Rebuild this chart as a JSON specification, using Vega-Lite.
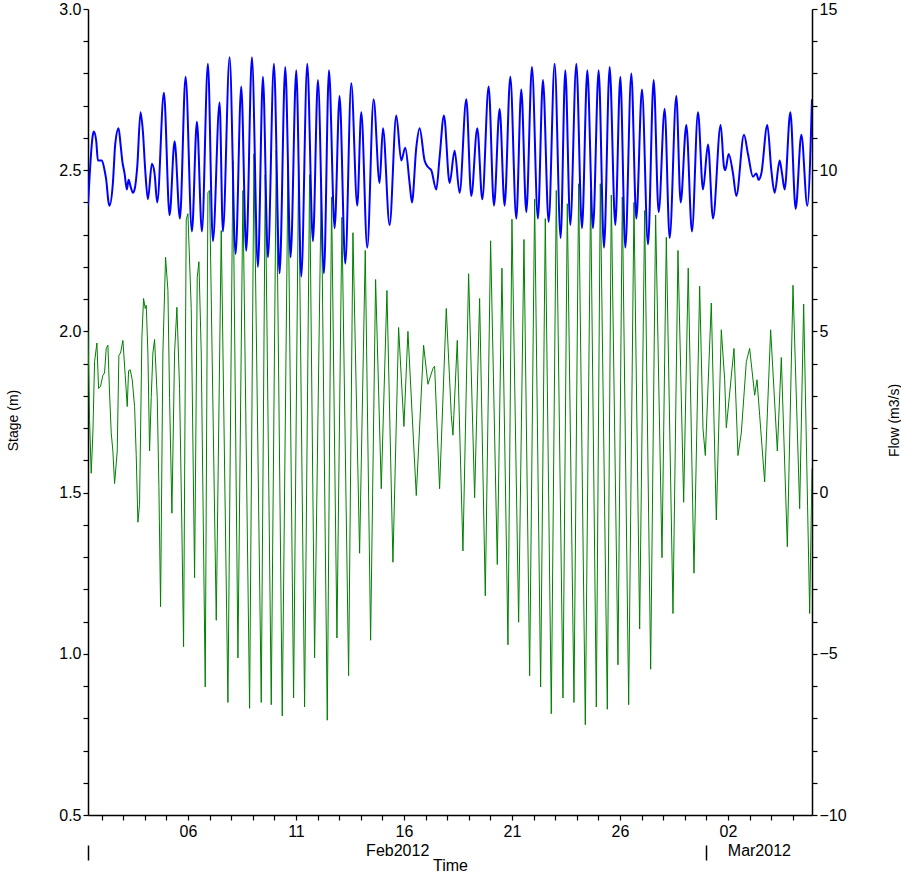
{
  "$schema": "https://vega.github.io/schema/vega-lite/v6.json",
  "width": 724,
  "height": 806,
  "autosize": {"type": "none"},
  "padding": {"left": 88, "top": 9, "right": 89, "bottom": 60},
  "background": "white",
  "config": {
    "view": {"stroke": null},
    "font": "Liberation Sans",
    "axis": {
      "domainColor": "black", "tickColor": "black", "labelColor": "black", "titleColor": "black",
      "labelFont": "Liberation Sans", "titleFont": "Liberation Sans",
      "labelFontSize": 16, "titleFontSize": 16, "titleFontWeight": "normal",
      "grid": false, "tickSize": 5, "domainWidth": 1.5, "tickWidth": 1.2,
      "labelOverlap": false, "labelFlush": false
    }
  },
  "datasets": {
    "stage": [
      {"t":"2012-02-01T09:00","v":2.39},{"t":"2012-02-01T14:25","v":2.61},{"t":"2012-02-01T15:33","v":2.62},{"t":"2012-02-01T18:09","v":2.59},
      {"t":"2012-02-01T20:00","v":2.53},{"t":"2012-02-01T21:50","v":2.53},{"t":"2012-02-02T00:26","v":2.53},{"t":"2012-02-02T03:24","v":2.50},
      {"t":"2012-02-02T05:15","v":2.47},{"t":"2012-02-02T07:51","v":2.40},{"t":"2012-02-02T08:57","v":2.39},{"t":"2012-02-02T12:39","v":2.46},
      {"t":"2012-02-02T15:14","v":2.58},{"t":"2012-02-02T18:58","v":2.63},{"t":"2012-02-02T21:10","v":2.58},{"t":"2012-02-02T23:02","v":2.53},
      {"t":"2012-02-03T01:38","v":2.49},{"t":"2012-02-03T04:12","v":2.44},{"t":"2012-02-03T06:04","v":2.47},{"t":"2012-02-03T08:17","v":2.45},
      {"t":"2012-02-03T10:52","v":2.43},{"t":"2012-02-03T12:45","v":2.44},{"t":"2012-02-03T15:42","v":2.51},{"t":"2012-02-03T19:23","v":2.68},
      {"t":"2012-02-03T21:59","v":2.62},{"t":"2012-02-04T00:35","v":2.50},{"t":"2012-02-04T03:33","v":2.41},{"t":"2012-02-04T08:00","v":2.52},
      {"t":"2012-02-04T10:57","v":2.49},{"t":"2012-02-04T13:55","v":2.40},{"t":"2012-02-04T21:20","v":2.74},{"t":"2012-02-05T03:37","v":2.36},
      {"t":"2012-02-05T09:11","v":2.59},{"t":"2012-02-05T15:06","v":2.35},{"t":"2012-02-05T21:25","v":2.79},{"t":"2012-02-06T04:26","v":2.31},
      {"t":"2012-02-06T10:00","v":2.65},{"t":"2012-02-06T15:33","v":2.31},{"t":"2012-02-06T22:13","v":2.83},{"t":"2012-02-07T03:46","v":2.28},
      {"t":"2012-02-07T11:11","v":2.71},{"t":"2012-02-07T14:53","v":2.31},{"t":"2012-02-07T22:18","v":2.85},{"t":"2012-02-08T04:58","v":2.24},
      {"t":"2012-02-08T11:15","v":2.76},{"t":"2012-02-08T16:49","v":2.25},{"t":"2012-02-08T23:07","v":2.85},{"t":"2012-02-09T05:47","v":2.20},
      {"t":"2012-02-09T11:20","v":2.79},{"t":"2012-02-09T16:54","v":2.23},{"t":"2012-02-09T23:33","v":2.83},{"t":"2012-02-10T05:51","v":2.18},
      {"t":"2012-02-10T12:09","v":2.82},{"t":"2012-02-10T18:04","v":2.23},{"t":"2012-02-11T00:22","v":2.81},{"t":"2012-02-11T05:56","v":2.17},
      {"t":"2012-02-11T12:36","v":2.83},{"t":"2012-02-11T18:53","v":2.28},{"t":"2012-02-12T00:27","v":2.78},{"t":"2012-02-12T07:06","v":2.18},
      {"t":"2012-02-12T12:43","v":2.81},{"t":"2012-02-12T18:58","v":2.32},{"t":"2012-02-13T00:30","v":2.73},{"t":"2012-02-13T06:49","v":2.21},
      {"t":"2012-02-13T13:28","v":2.77},{"t":"2012-02-13T20:08","v":2.39},{"t":"2012-02-14T00:35","v":2.68},{"t":"2012-02-14T07:15","v":2.26},
      {"t":"2012-02-14T14:17","v":2.72},{"t":"2012-02-14T20:57","v":2.46},{"t":"2012-02-15T00:39","v":2.63},{"t":"2012-02-15T08:04","v":2.33},
      {"t":"2012-02-15T15:29","v":2.67},{"t":"2012-02-15T21:01","v":2.53},{"t":"2012-02-16T01:28","v":2.57},{"t":"2012-02-16T06:17","v":2.46},
      {"t":"2012-02-16T08:53","v":2.40},{"t":"2012-02-16T13:42","v":2.57},{"t":"2012-02-16T17:24","v":2.63},{"t":"2012-02-16T22:57","v":2.53},
      {"t":"2012-02-17T02:40","v":2.51},{"t":"2012-02-17T06:22","v":2.50},{"t":"2012-02-17T11:56","v":2.44},{"t":"2012-02-17T15:37","v":2.54},
      {"t":"2012-02-17T20:27","v":2.67},{"t":"2012-02-18T02:44","v":2.46},{"t":"2012-02-18T08:18","v":2.56},{"t":"2012-02-18T13:51","v":2.43},
      {"t":"2012-02-18T21:16","v":2.72},{"t":"2012-02-19T02:48","v":2.42},{"t":"2012-02-19T09:29","v":2.63},{"t":"2012-02-19T15:03","v":2.41},
      {"t":"2012-02-19T22:05","v":2.76},{"t":"2012-02-20T04:00","v":2.39},{"t":"2012-02-20T10:18","v":2.69},{"t":"2012-02-20T15:50","v":2.39},
      {"t":"2012-02-20T22:09","v":2.79},{"t":"2012-02-21T04:49","v":2.35},{"t":"2012-02-21T10:22","v":2.75},{"t":"2012-02-21T15:56","v":2.37},
      {"t":"2012-02-21T22:13","v":2.82},{"t":"2012-02-22T04:49","v":2.35},{"t":"2012-02-22T10:26","v":2.78},{"t":"2012-02-22T16:45","v":2.34},
      {"t":"2012-02-22T23:24","v":2.83},{"t":"2012-02-23T06:04","v":2.29},{"t":"2012-02-23T11:15","v":2.81},{"t":"2012-02-23T16:48","v":2.33},
      {"t":"2012-02-23T23:30","v":2.83},{"t":"2012-02-24T05:47","v":2.32},{"t":"2012-02-24T11:43","v":2.81},{"t":"2012-02-24T18:00","v":2.32},
      {"t":"2012-02-25T00:19","v":2.81},{"t":"2012-02-25T06:14","v":2.26},{"t":"2012-02-25T12:32","v":2.82},{"t":"2012-02-25T18:49","v":2.33},
      {"t":"2012-02-26T00:23","v":2.79},{"t":"2012-02-26T05:56","v":2.26},{"t":"2012-02-26T12:36","v":2.80},{"t":"2012-02-26T18:09","v":2.35},
      {"t":"2012-02-27T00:27","v":2.75},{"t":"2012-02-27T07:08","v":2.27},{"t":"2012-02-27T13:25","v":2.78},{"t":"2012-02-27T18:59","v":2.37},
      {"t":"2012-02-28T01:38","v":2.69},{"t":"2012-02-28T07:12","v":2.29},{"t":"2012-02-28T14:35","v":2.73},{"t":"2012-02-28T19:25","v":2.40},
      {"t":"2012-02-29T01:42","v":2.64},{"t":"2012-02-29T08:00","v":2.31},{"t":"2012-02-29T14:40","v":2.68},{"t":"2012-02-29T20:14","v":2.44},
      {"t":"2012-03-01T01:47","v":2.58},{"t":"2012-03-01T07:21","v":2.35},{"t":"2012-03-01T15:50","v":2.64},{"t":"2012-03-01T19:34","v":2.51},
      {"t":"2012-03-01T21:03","v":2.50},{"t":"2012-03-02T00:45","v":2.55},{"t":"2012-03-02T05:33","v":2.49},{"t":"2012-03-02T09:16","v":2.42},
      {"t":"2012-03-02T17:47","v":2.61},{"t":"2012-03-02T22:13","v":2.55},{"t":"2012-03-03T03:46","v":2.48},{"t":"2012-03-03T07:29","v":2.49},
      {"t":"2012-03-03T10:05","v":2.47},{"t":"2012-03-03T13:02","v":2.49},{"t":"2012-03-03T19:42","v":2.64},{"t":"2012-03-04T00:09","v":2.50},
      {"t":"2012-03-04T03:50","v":2.43},{"t":"2012-03-04T09:25","v":2.53},{"t":"2012-03-04T12:00","v":2.49},{"t":"2012-03-04T14:57","v":2.44},
      {"t":"2012-03-04T21:16","v":2.68},{"t":"2012-03-05T03:11","v":2.38},{"t":"2012-03-05T09:29","v":2.61},{"t":"2012-03-05T16:09","v":2.39},
      {"t":"2012-03-05T21:20","v":2.72}
    ],
    "flow": [
      {"t":"2012-02-01T09:00","v":5.02},{"t":"2012-02-01T10:44","v":2.26},{"t":"2012-02-01T12:35","v":0.60},{"t":"2012-02-01T14:25","v":1.85},
      {"t":"2012-02-01T16:18","v":4.06},{"t":"2012-02-01T18:53","v":4.64},{"t":"2012-02-01T20:44","v":3.23},{"t":"2012-02-01T22:57","v":3.30},
      {"t":"2012-02-02T01:32","v":3.64},{"t":"2012-02-02T03:24","v":3.71},{"t":"2012-02-02T05:15","v":4.47},{"t":"2012-02-02T07:06","v":4.57},
      {"t":"2012-02-02T08:57","v":3.09},{"t":"2012-02-02T10:48","v":1.85},{"t":"2012-02-02T12:39","v":1.29},{"t":"2012-02-02T14:31","v":0.28},
      {"t":"2012-02-02T17:28","v":1.29},{"t":"2012-02-02T19:19","v":4.26},{"t":"2012-02-02T21:10","v":4.33},{"t":"2012-02-02T23:46","v":4.72},
      {"t":"2012-02-03T02:21","v":3.64},{"t":"2012-02-03T04:35","v":2.67},{"t":"2012-02-03T06:04","v":3.78},{"t":"2012-02-03T07:55","v":3.81},
      {"t":"2012-02-03T10:09","v":3.50},{"t":"2012-02-03T12:45","v":2.67},{"t":"2012-02-03T14:35","v":1.15},{"t":"2012-02-03T16:26","v":-0.92},
      {"t":"2012-02-03T18:17","v":-0.36},{"t":"2012-02-03T20:53","v":4.82},{"t":"2012-02-03T22:44","v":6.02},{"t":"2012-02-04T00:35","v":5.71},
      {"t":"2012-02-04T01:42","v":5.81},{"t":"2012-02-04T03:33","v":4.33},{"t":"2012-02-04T05:24","v":1.29},{"t":"2012-02-04T07:15","v":2.95},
      {"t":"2012-02-04T09:06","v":4.33},{"t":"2012-02-04T10:57","v":4.75},{"t":"2012-02-04T13:55","v":2.95},{"t":"2012-02-04T15:46","v":0.19},
      {"t":"2012-02-04T17:37","v":-3.54},{"t":"2012-02-04T20:12","v":4.33},{"t":"2012-02-04T23:11","v":7.30},{"t":"2012-02-05T01:47","v":6.27},
      {"t":"2012-02-05T03:37","v":2.95},{"t":"2012-02-05T06:13","v":-0.64},{"t":"2012-02-05T09:11","v":4.33},{"t":"2012-02-05T11:46","v":5.75},
      {"t":"2012-02-05T14:44","v":3.23},{"t":"2012-02-05T17:20","v":-1.19},{"t":"2012-02-05T19:10","v":-4.78},{"t":"2012-02-05T22:09","v":8.48},
      {"t":"2012-02-06T00:00","v":8.65},{"t":"2012-02-06T03:42","v":5.71},{"t":"2012-02-06T07:25","v":-2.64},{"t":"2012-02-06T10:22","v":6.68},
      {"t":"2012-02-06T12:13","v":7.16},{"t":"2012-02-06T14:48","v":4.33},{"t":"2012-02-06T19:15","v":-6.03},{"t":"2012-02-06T22:13","v":9.30},
      {"t":"2012-02-07T00:04","v":9.37},{"t":"2012-02-07T07:29","v":-3.96},{"t":"2012-02-07T13:02","v":8.13},{"t":"2012-02-07T20:27","v":-6.51},
      {"t":"2012-02-08T02:00","v":10.30},{"t":"2012-02-08T07:34","v":-5.13},{"t":"2012-02-08T13:06","v":9.37},{"t":"2012-02-08T20:31","v":-6.69},
      {"t":"2012-02-09T01:21","v":10.51},{"t":"2012-02-09T09:29","v":-6.51},{"t":"2012-02-09T13:55","v":9.86},{"t":"2012-02-09T20:36","v":-6.58},
      {"t":"2012-02-10T02:10","v":10.62},{"t":"2012-02-10T08:49","v":-6.93},{"t":"2012-02-10T15:07","v":10.02},{"t":"2012-02-10T21:25","v":-6.37},
      {"t":"2012-02-11T02:57","v":10.16},{"t":"2012-02-11T09:37","v":-6.65},{"t":"2012-02-11T15:12","v":9.86},{"t":"2012-02-11T20:44","v":-5.13},
      {"t":"2012-02-12T04:09","v":9.61},{"t":"2012-02-12T10:49","v":-7.06},{"t":"2012-02-12T15:36","v":9.17},{"t":"2012-02-12T21:33","v":-4.51},
      {"t":"2012-02-13T03:06","v":8.54},{"t":"2012-02-13T10:31","v":-5.68},{"t":"2012-02-13T15:20","v":8.06},{"t":"2012-02-13T22:44","v":-1.88},
      {"t":"2012-02-14T05:01","v":7.51},{"t":"2012-02-14T10:57","v":-4.58},{"t":"2012-02-14T16:31","v":6.61},{"t":"2012-02-14T22:48","v":0.12},
      {"t":"2012-02-15T05:07","v":6.27},{"t":"2012-02-15T11:46","v":-2.16},{"t":"2012-02-15T18:04","v":5.12},{"t":"2012-02-15T23:59","v":2.05},
      {"t":"2012-02-16T04:26","v":5.00},{"t":"2012-02-16T13:42","v":-0.09},{"t":"2012-02-16T21:50","v":4.57},{"t":"2012-02-17T02:40","v":3.36},
      {"t":"2012-02-17T08:12","v":3.85},{"t":"2012-02-17T10:05","v":3.92},{"t":"2012-02-17T15:37","v":0.12},{"t":"2012-02-17T23:02","v":5.71},
      {"t":"2012-02-18T04:35","v":2.40},{"t":"2012-02-18T06:26","v":1.78},{"t":"2012-02-18T11:15","v":4.72},{"t":"2012-02-18T17:33","v":-1.81},
      {"t":"2012-02-18T23:51","v":6.79},{"t":"2012-02-19T06:32","v":-0.16},{"t":"2012-02-19T12:04","v":6.02},{"t":"2012-02-19T18:22","v":-3.20},
      {"t":"2012-02-20T00:17","v":7.81},{"t":"2012-02-20T07:42","v":-2.23},{"t":"2012-02-20T12:53","v":6.96},{"t":"2012-02-20T19:34","v":-4.72},
      {"t":"2012-02-21T00:00","v":8.48},{"t":"2012-02-21T07:25","v":-4.02},{"t":"2012-02-21T13:21","v":7.85},{"t":"2012-02-21T19:38","v":-5.68},
      {"t":"2012-02-22T01:11","v":9.10},{"t":"2012-02-22T07:51","v":-6.03},{"t":"2012-02-22T13:02","v":8.50},{"t":"2012-02-22T19:42","v":-6.86},
      {"t":"2012-02-23T01:15","v":9.37},{"t":"2012-02-23T08:40","v":-6.37},{"t":"2012-02-23T13:29","v":8.96},{"t":"2012-02-23T20:54","v":-6.51},
      {"t":"2012-02-24T02:05","v":9.58},{"t":"2012-02-24T09:29","v":-7.20},{"t":"2012-02-24T15:24","v":9.37},{"t":"2012-02-24T21:43","v":-6.65},
      {"t":"2012-02-25T02:10","v":9.58},{"t":"2012-02-25T09:56","v":-6.72},{"t":"2012-02-25T14:23","v":9.23},{"t":"2012-02-25T21:47","v":-5.34},
      {"t":"2012-02-26T02:35","v":9.17},{"t":"2012-02-26T09:39","v":-6.58},{"t":"2012-02-26T15:33","v":9.00},{"t":"2012-02-26T21:52","v":-4.23},
      {"t":"2012-02-27T03:24","v":8.75},{"t":"2012-02-27T10:05","v":-5.48},{"t":"2012-02-27T15:37","v":8.61},{"t":"2012-02-27T22:41","v":-2.02},
      {"t":"2012-02-28T03:29","v":7.92},{"t":"2012-02-28T10:54","v":-3.75},{"t":"2012-02-28T16:26","v":7.51},{"t":"2012-02-28T22:45","v":-0.30},
      {"t":"2012-02-29T03:50","v":6.96},{"t":"2012-02-29T10:13","v":-2.50},{"t":"2012-02-29T16:31","v":6.40},{"t":"2012-02-29T20:14","v":1.98},
      {"t":"2012-02-29T22:49","v":1.15},{"t":"2012-03-01T05:28","v":5.88},{"t":"2012-03-01T11:02","v":-0.85},{"t":"2012-03-01T16:35","v":5.05},
      {"t":"2012-03-01T20:18","v":3.50},{"t":"2012-03-01T22:09","v":2.01},{"t":"2012-03-02T06:40","v":4.47},{"t":"2012-03-02T11:07","v":1.15},
      {"t":"2012-03-02T14:48","v":1.85},{"t":"2012-03-02T20:22","v":4.06},{"t":"2012-03-03T00:04","v":4.47},{"t":"2012-03-03T05:38","v":3.02},
      {"t":"2012-03-03T08:14","v":3.50},{"t":"2012-03-03T11:11","v":2.40},{"t":"2012-03-03T16:45","v":0.33},{"t":"2012-03-03T23:24","v":5.05},
      {"t":"2012-03-04T06:49","v":1.29},{"t":"2012-03-04T11:15","v":4.19},{"t":"2012-03-04T17:56","v":-1.68},{"t":"2012-03-05T00:13","v":6.43},
      {"t":"2012-03-05T07:38","v":-0.50},{"t":"2012-03-05T12:04","v":5.85},{"t":"2012-03-05T18:45","v":-3.75},{"t":"2012-03-05T21:20","v":0.74}
    ],
    "months": [
      {"t":"2012-02-01T09:00"},{"t":"2012-03-01T00:00"}
    ]
  },
  "layer": [
    {
      "data": {"name": "flow"},
      "mark": {"type": "line", "color": "#008000", "strokeWidth": 1, "clip": true},
      "encoding": {
        "x": {
          "field": "t", "type": "temporal",
          "scale": {"domain": [{"year":2012,"month":2,"date":1,"hours":9}, {"year":2012,"month":3,"date":5,"hours":21,"minutes":20}]},
          "axis": {
            "orient": "bottom",
            "tickCount": {"interval": "day", "step": 1},
            "labelExpr": "round((datum.value - datetime(2012,1,1)) / 86400000) % 5 == 0 ? timeFormat(datum.value, '%d') : ''",
            "labelPadding": 3, "title": "Time", "titlePadding": 18
          }
        },
        "y": {
          "field": "v", "type": "quantitative",
          "scale": {"domain": [-10, 15], "nice": false, "zero": false},
          "axis": {
            "orient": "right",
            "values": [-10,-9,-8,-7,-6,-5,-4,-3,-2,-1,0,1,2,3,4,5,6,7,8,9,10,11,12,13,14,15],
            "labelExpr": "datum.value % 5 == 0 ? datum.label : ''",
            "labelPadding": 2,
            "title": "Flow (m3/s)", "titleAngle": -90, "titlePadding": 55,
            "titleFontSize": 14, "titleY": 411
          }
        }
      }
    },
    {
      "data": {"name": "stage"},
      "mark": {"type": "line", "color": "#0000FF", "strokeWidth": 2, "interpolate": "monotone", "clip": true},
      "encoding": {
        "x": {
          "field": "t", "type": "temporal",
          "scale": {"domain": [{"year":2012,"month":2,"date":1,"hours":9}, {"year":2012,"month":3,"date":5,"hours":21,"minutes":20}]},
          "axis": {
            "orient": "bottom",
            "values": [{"year":2012,"month":2,"date":15,"hours":16,"minutes":30}, {"year":2012,"month":3,"date":3,"hours":10,"minutes":20}],
            "labelExpr": "month(datum.value) == 1 ? 'Feb2012' : 'Mar2012'",
            "ticks": false, "tickSize": 0, "domain": false, "labelPadding": 27, "title": null
          }
        },
        "y": {
          "field": "v", "type": "quantitative",
          "scale": {"domain": [0.5, 3.0], "nice": false, "zero": false},
          "axis": {
            "orient": "left",
            "values": [0.5,0.6,0.7,0.8,0.9,1.0,1.1,1.2,1.3,1.4,1.5,1.6,1.7,1.8,1.9,2.0,2.1,2.2,2.3,2.4,2.5,2.6,2.7,2.8,2.9,3.0],
            "labelExpr": "abs(datum.value * 2 - round(datum.value * 2)) < 0.001 ? format(datum.value, '.1f') : ''",
            "labelPadding": 2,
            "title": "Stage (m)", "titlePadding": 38,
            "titleFontSize": 14, "titleY": 411
          }
        }
      }
    },
    {
      "data": {"name": "months"},
      "mark": {"type": "rule", "opacity": 0},
      "encoding": {
        "x": {
          "field": "t", "type": "temporal",
          "scale": {"domain": [{"year":2012,"month":2,"date":1,"hours":9}, {"year":2012,"month":3,"date":5,"hours":21,"minutes":20}]},
          "axis": {
            "orient": "bottom",
            "values": [{"year":2012,"month":2,"date":1,"hours":9}, {"year":2012,"month":3,"date":1}],
            "labels": false, "domain": false, "tickSize": 15, "tickWidth": 1.5, "offset": 30, "title": null
          }
        }
      }
    }
  ],
  "resolve": {"scale": {"y": "independent"}, "axis": {"x": "independent", "y": "independent"}}
}
